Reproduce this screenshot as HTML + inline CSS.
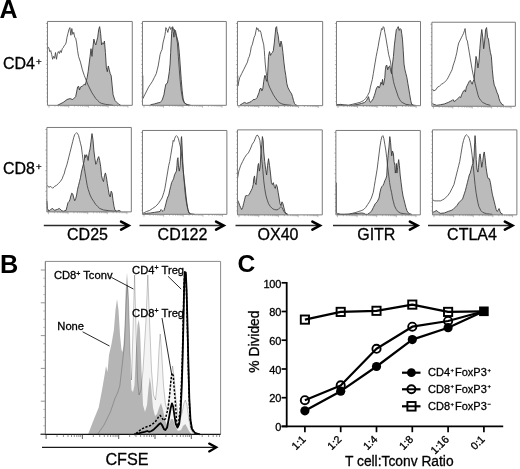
<!DOCTYPE html>
<html><head><meta charset="utf-8"><style>
html,body{margin:0;padding:0;background:#fff;}
body{width:520px;height:469px;overflow:hidden;}
svg{display:block;filter:grayscale(1);font-family:"Liberation Sans",sans-serif;}
text{stroke:#000;stroke-width:0.3px;}
</style></head><body>
<svg width="520" height="469" viewBox="0 0 520 469">
<rect width="520" height="469" fill="#fff"/>
<text x="-0.6" y="17.8" font-size="25" text-anchor="start" font-weight="bold" style="stroke-width:0">A</text>
<text x="0.0" y="272.8" font-size="25.3" text-anchor="start" font-weight="bold" style="stroke-width:0">B</text>
<text x="237.6" y="272.0" font-size="24.6" text-anchor="start" font-weight="bold" style="stroke-width:0">C</text>
<text x="3" y="68.8" font-size="16">CD4<tspan font-size="9.6" dx="1.1" dy="-4">+</tspan></text>
<text x="3" y="174" font-size="16">CD8<tspan font-size="9.6" dx="1.1" dy="-4">+</tspan></text>
<g transform="translate(44,18) scale(0.191898)">
<path d="M70,455 L70,455 L100,440 L120,425 L135,420 L150,425 L165,410 L175,360 L180,355 L185,375 L190,360 L200,355 L210,345 L215,350 L220,330 L225,310 L230,280 L235,240 L240,200 L245,160 L250,200 L255,150 L260,110 L265,130 L270,140 L275,120 L280,100 L285,60 L290,45 L295,80 L300,140 L305,130 L310,135 L315,120 L320,180 L325,260 L330,280 L335,250 L340,270 L345,290 L350,300 L355,350 L360,400 L370,430 L380,440 L390,450 L400,455 L400,455 Z" fill="#bbbbbb" stroke="none"/>
<polyline points="70.0,455.0 100.0,440.0 120.0,425.0 135.0,420.0 150.0,425.0 165.0,410.0 175.0,360.0 180.0,355.0 185.0,375.0 190.0,360.0 200.0,355.0 210.0,345.0 215.0,350.0 220.0,330.0 225.0,310.0 230.0,280.0 235.0,240.0 240.0,200.0 245.0,160.0 250.0,200.0 255.0,150.0 260.0,110.0 265.0,130.0 270.0,140.0 275.0,120.0 280.0,100.0 285.0,60.0 290.0,45.0 295.0,80.0 300.0,140.0 305.0,130.0 310.0,135.0 315.0,120.0 320.0,180.0 325.0,260.0 330.0,280.0 335.0,250.0 340.0,270.0 345.0,290.0 350.0,300.0 355.0,350.0 360.0,400.0 370.0,430.0 380.0,440.0 390.0,450.0 400.0,455.0" fill="none" stroke="#3a3a3a" stroke-width="0.9" vector-effect="non-scaling-stroke" stroke-linejoin="round"/>
<polyline points="20.0,150.0 25.0,155.0 30.0,175.0 35.0,170.0 40.0,190.0 45.0,215.0 50.0,200.0 55.0,210.0 60.0,180.0 65.0,215.0 70.0,185.0 75.0,175.0 80.0,185.0 85.0,170.0 90.0,180.0 95.0,160.0 100.0,155.0 105.0,145.0 110.0,140.0 115.0,130.0 120.0,100.0 125.0,80.0 130.0,60.0 135.0,50.0 140.0,90.0 145.0,55.0 150.0,85.0 155.0,75.0 160.0,100.0 165.0,105.0 170.0,130.0 175.0,170.0 180.0,200.0 190.0,230.0 200.0,270.0 210.0,300.0 220.0,325.0 230.0,350.0 240.0,370.0 250.0,390.0 260.0,405.0 270.0,420.0 280.0,430.0 290.0,440.0 300.0,445.0 320.0,450.0 360.0,455.0" fill="none" stroke="#3a3a3a" stroke-width="0.8" vector-effect="non-scaling-stroke" stroke-linejoin="round"/>
<rect x="18" y="18" width="442" height="437" fill="none" stroke="#7a7a7a" stroke-width="1" vector-effect="non-scaling-stroke"/>
<path d="M13 433.7H18M13 412.4H18M13 391.0H18M13 369.7H18M10 348.4H18M13 327.1H18M13 305.8H18M13 284.5H18M13 263.1H18M10 241.8H18M13 220.5H18M13 199.2H18M13 177.9H18M13 156.6H18M10 135.2H18M13 113.9H18M13 92.6H18M13 71.3H18M13 50.0H18M10 28.7H18" stroke="#7a7a7a" stroke-width="0.6" vector-effect="non-scaling-stroke"/>
<path d="M26.0 455v12M56.9 455v7M75.0 455v7M87.9 455v7M97.8 455v7M106.0 455v7M112.9 455v7M118.8 455v7M124.1 455v7M128.8 455v12M159.7 455v7M177.8 455v7M190.7 455v7M200.6 455v7M208.8 455v7M215.7 455v7M221.6 455v7M226.9 455v7M231.6 455v12M262.5 455v7M280.6 455v7M293.5 455v7M303.4 455v7M311.6 455v7M318.4 455v7M324.4 455v7M329.7 455v7M334.4 455v12M365.3 455v7M383.4 455v7M396.3 455v7M406.2 455v7M414.4 455v7M421.2 455v7M427.2 455v7M432.5 455v7M437.2 455v12" stroke="#8a8a8a" stroke-width="0.6" vector-effect="non-scaling-stroke"/>
</g>
<g transform="translate(139,18) scale(0.191898)">
<path d="M60,455 L60,452 L80,448 L100,442 L110,440 L120,430 L130,400 L135,370 L140,345 L148,340 L152,320 L158,280 L162,240 L165,180 L168,120 L170,80 L172,60 L175,50 L178,70 L182,100 L185,60 L190,65 L195,90 L200,110 L205,130 L210,180 L215,250 L220,320 L225,380 L230,420 L235,440 L245,450 L260,455 L260,455 Z" fill="#bbbbbb" stroke="none"/>
<polyline points="60.0,452.0 80.0,448.0 100.0,442.0 110.0,440.0 120.0,430.0 130.0,400.0 135.0,370.0 140.0,345.0 148.0,340.0 152.0,320.0 158.0,280.0 162.0,240.0 165.0,180.0 168.0,120.0 170.0,80.0 172.0,60.0 175.0,50.0 178.0,70.0 182.0,100.0 185.0,60.0 190.0,65.0 195.0,90.0 200.0,110.0 205.0,130.0 210.0,180.0 215.0,250.0 220.0,320.0 225.0,380.0 230.0,420.0 235.0,440.0 245.0,450.0 260.0,455.0" fill="none" stroke="#3a3a3a" stroke-width="0.9" vector-effect="non-scaling-stroke" stroke-linejoin="round"/>
<polyline points="20.0,300.0 20.0,420.0 30.0,400.0 40.0,380.0 50.0,360.0 60.0,345.0 70.0,330.0 80.0,310.0 90.0,290.0 95.0,270.0 100.0,250.0 105.0,220.0 110.0,190.0 115.0,175.0 120.0,165.0 125.0,130.0 130.0,110.0 135.0,90.0 138.0,70.0 140.0,50.0 145.0,60.0 150.0,75.0 155.0,55.0 160.0,45.0 165.0,60.0 170.0,50.0 175.0,45.0 180.0,60.0 185.0,70.0 190.0,80.0 195.0,100.0 200.0,130.0 205.0,200.0 210.0,270.0 215.0,330.0 220.0,380.0 225.0,410.0 230.0,430.0 240.0,445.0 250.0,450.0 270.0,455.0" fill="none" stroke="#3a3a3a" stroke-width="0.8" vector-effect="non-scaling-stroke" stroke-linejoin="round"/>
<rect x="18" y="18" width="437" height="437" fill="none" stroke="#7a7a7a" stroke-width="1" vector-effect="non-scaling-stroke"/>
<path d="M13 433.7H18M13 412.4H18M13 391.0H18M13 369.7H18M10 348.4H18M13 327.1H18M13 305.8H18M13 284.5H18M13 263.1H18M10 241.8H18M13 220.5H18M13 199.2H18M13 177.9H18M13 156.6H18M10 135.2H18M13 113.9H18M13 92.6H18M13 71.3H18M13 50.0H18M10 28.7H18" stroke="#7a7a7a" stroke-width="0.6" vector-effect="non-scaling-stroke"/>
<path d="M26.0 455v12M56.6 455v7M74.5 455v7M87.2 455v7M97.0 455v7M105.1 455v7M111.9 455v7M117.8 455v7M123.0 455v7M127.6 455v12M158.2 455v7M176.1 455v7M188.8 455v7M198.7 455v7M206.7 455v7M213.5 455v7M219.4 455v7M224.6 455v7M229.3 455v12M259.8 455v7M277.7 455v7M290.4 455v7M300.3 455v7M308.3 455v7M315.1 455v7M321.0 455v7M326.2 455v7M330.9 455v12M361.5 455v7M379.4 455v7M392.1 455v7M401.9 455v7M410.0 455v7M416.8 455v7M422.7 455v7M427.9 455v7M432.5 455v12" stroke="#8a8a8a" stroke-width="0.6" vector-effect="non-scaling-stroke"/>
</g>
<g transform="translate(234,18) scale(0.191898)">
<path d="M30,457 L30,455 L45,445 L55,440 L65,445 L80,440 L90,435 L100,425 L110,425 L120,415 L130,390 L135,370 L140,365 L145,380 L150,370 L155,330 L160,300 L163,300 L167,320 L170,330 L175,300 L180,200 L185,175 L190,195 L195,185 L200,180 L205,170 L210,130 L213,100 L218,50 L222,45 L225,70 L230,90 L235,130 L240,150 L245,120 L250,140 L255,180 L260,230 L265,270 L270,300 L275,340 L280,360 L290,380 L300,395 L305,410 L310,430 L315,445 L320,452 L330,456 L330,457 Z" fill="#bbbbbb" stroke="none"/>
<polyline points="30.0,455.0 45.0,445.0 55.0,440.0 65.0,445.0 80.0,440.0 90.0,435.0 100.0,425.0 110.0,425.0 120.0,415.0 130.0,390.0 135.0,370.0 140.0,365.0 145.0,380.0 150.0,370.0 155.0,330.0 160.0,300.0 163.0,300.0 167.0,320.0 170.0,330.0 175.0,300.0 180.0,200.0 185.0,175.0 190.0,195.0 195.0,185.0 200.0,180.0 205.0,170.0 210.0,130.0 213.0,100.0 218.0,50.0 222.0,45.0 225.0,70.0 230.0,90.0 235.0,130.0 240.0,150.0 245.0,120.0 250.0,140.0 255.0,180.0 260.0,230.0 265.0,270.0 270.0,300.0 275.0,340.0 280.0,360.0 290.0,380.0 300.0,395.0 305.0,410.0 310.0,430.0 315.0,445.0 320.0,452.0 330.0,456.0" fill="none" stroke="#3a3a3a" stroke-width="0.9" vector-effect="non-scaling-stroke" stroke-linejoin="round"/>
<polyline points="20.0,300.0 20.0,355.0 25.0,330.0 30.0,310.0 40.0,290.0 50.0,270.0 60.0,250.0 70.0,230.0 75.0,210.0 80.0,200.0 85.0,180.0 90.0,150.0 95.0,140.0 100.0,120.0 105.0,100.0 110.0,90.0 115.0,65.0 118.0,50.0 122.0,60.0 125.0,55.0 130.0,70.0 135.0,65.0 140.0,75.0 145.0,100.0 150.0,120.0 155.0,140.0 158.0,170.0 160.0,200.0 163.0,240.0 167.0,280.0 172.0,310.0 178.0,340.0 185.0,360.0 195.0,380.0 205.0,400.0 215.0,415.0 225.0,430.0 235.0,440.0 250.0,448.0 270.0,452.0 300.0,455.0" fill="none" stroke="#3a3a3a" stroke-width="0.8" vector-effect="non-scaling-stroke" stroke-linejoin="round"/>
<rect x="18" y="18" width="444" height="439" fill="none" stroke="#7a7a7a" stroke-width="1" vector-effect="non-scaling-stroke"/>
<path d="M13 435.6H18M13 414.2H18M13 392.8H18M13 371.3H18M10 349.9H18M13 328.5H18M13 307.1H18M13 285.7H18M13 264.3H18M10 242.9H18M13 221.4H18M13 200.0H18M13 178.6H18M13 157.2H18M10 135.8H18M13 114.4H18M13 93.0H18M13 71.5H18M13 50.1H18M10 28.7H18" stroke="#7a7a7a" stroke-width="0.6" vector-effect="non-scaling-stroke"/>
<path d="M26.0 457v12M57.1 457v7M75.3 457v7M88.2 457v7M98.2 457v7M106.3 457v7M113.3 457v7M119.2 457v7M124.5 457v7M129.3 457v12M160.3 457v7M178.5 457v7M191.4 457v7M201.4 457v7M209.6 457v7M216.5 457v7M222.5 457v7M227.8 457v7M232.5 457v12M263.6 457v7M281.8 457v7M294.7 457v7M304.7 457v7M312.9 457v7M319.8 457v7M325.8 457v7M331.0 457v7M335.8 457v12M366.9 457v7M385.0 457v7M397.9 457v7M407.9 457v7M416.1 457v7M423.0 457v7M429.0 457v7M434.3 457v7M439.0 457v12" stroke="#8a8a8a" stroke-width="0.6" vector-effect="non-scaling-stroke"/>
</g>
<g transform="translate(333,18) scale(0.191898)">
<path d="M20,457 L20,455 L40,450 L60,455 L100,455 L130,450 L150,445 L165,440 L175,430 L180,420 L185,410 L190,430 L195,440 L200,435 L210,420 L215,405 L220,390 L225,370 L230,360 L235,355 L240,365 L245,355 L250,335 L255,345 L258,320 L262,350 L265,340 L270,310 L273,270 L276,250 L280,245 L285,270 L290,255 L295,250 L300,270 L305,290 L310,240 L315,200 L320,140 L325,100 L330,60 L335,55 L340,45 L345,65 L350,55 L355,60 L358,80 L362,110 L366,170 L370,240 L375,270 L380,290 L385,310 L390,340 L395,370 L400,400 L405,430 L410,450 L420,455 L420,457 Z" fill="#bbbbbb" stroke="none"/>
<polyline points="20.0,455.0 40.0,450.0 60.0,455.0 100.0,455.0 130.0,450.0 150.0,445.0 165.0,440.0 175.0,430.0 180.0,420.0 185.0,410.0 190.0,430.0 195.0,440.0 200.0,435.0 210.0,420.0 215.0,405.0 220.0,390.0 225.0,370.0 230.0,360.0 235.0,355.0 240.0,365.0 245.0,355.0 250.0,335.0 255.0,345.0 258.0,320.0 262.0,350.0 265.0,340.0 270.0,310.0 273.0,270.0 276.0,250.0 280.0,245.0 285.0,270.0 290.0,255.0 295.0,250.0 300.0,270.0 305.0,290.0 310.0,240.0 315.0,200.0 320.0,140.0 325.0,100.0 330.0,60.0 335.0,55.0 340.0,45.0 345.0,65.0 350.0,55.0 355.0,60.0 358.0,80.0 362.0,110.0 366.0,170.0 370.0,240.0 375.0,270.0 380.0,290.0 385.0,310.0 390.0,340.0 395.0,370.0 400.0,400.0 405.0,430.0 410.0,450.0 420.0,455.0" fill="none" stroke="#3a3a3a" stroke-width="0.9" vector-effect="non-scaling-stroke" stroke-linejoin="round"/>
<polyline points="20.0,450.0 40.0,455.0 60.0,452.0 80.0,455.0 100.0,450.0 120.0,445.0 140.0,440.0 150.0,435.0 160.0,430.0 170.0,420.0 180.0,405.0 190.0,385.0 195.0,360.0 200.0,340.0 205.0,320.0 210.0,290.0 215.0,260.0 220.0,230.0 225.0,200.0 230.0,175.0 235.0,150.0 240.0,120.0 245.0,95.0 250.0,70.0 253.0,55.0 258.0,60.0 262.0,45.0 266.0,50.0 270.0,75.0 275.0,100.0 280.0,130.0 285.0,160.0 290.0,190.0 295.0,210.0 300.0,230.0 305.0,270.0 310.0,300.0 315.0,330.0 320.0,350.0 330.0,380.0 340.0,410.0 350.0,430.0 360.0,440.0 370.0,445.0 380.0,450.0 400.0,453.0 430.0,455.0" fill="none" stroke="#3a3a3a" stroke-width="0.8" vector-effect="non-scaling-stroke" stroke-linejoin="round"/>
<rect x="18" y="18" width="438" height="439" fill="none" stroke="#7a7a7a" stroke-width="1" vector-effect="non-scaling-stroke"/>
<path d="M13 435.6H18M13 414.2H18M13 392.8H18M13 371.3H18M10 349.9H18M13 328.5H18M13 307.1H18M13 285.7H18M13 264.3H18M10 242.9H18M13 221.4H18M13 200.0H18M13 178.6H18M13 157.2H18M10 135.8H18M13 114.4H18M13 93.0H18M13 71.5H18M13 50.1H18M10 28.7H18" stroke="#7a7a7a" stroke-width="0.6" vector-effect="non-scaling-stroke"/>
<path d="M26.0 457v12M56.7 457v7M74.6 457v7M87.3 457v7M97.2 457v7M105.3 457v7M112.1 457v7M118.0 457v7M123.2 457v7M127.9 457v12M158.5 457v7M176.5 457v7M189.2 457v7M199.1 457v7M207.1 457v7M213.9 457v7M219.8 457v7M225.1 457v7M229.7 457v12M260.4 457v7M278.3 457v7M291.0 457v7M300.9 457v7M309.0 457v7M315.8 457v7M321.7 457v7M326.9 457v7M331.6 457v12M362.2 457v7M380.2 457v7M392.9 457v7M402.8 457v7M410.8 457v7M417.7 457v7M423.6 457v7M428.8 457v7M433.4 457v12" stroke="#8a8a8a" stroke-width="0.6" vector-effect="non-scaling-stroke"/>
</g>
<g transform="translate(429,18) scale(0.191898)">
<path d="M18,460 L18,445 L25,450 L40,455 L60,452 L80,448 L100,440 L110,435 L120,430 L125,425 L130,435 L140,430 L150,420 L160,410 L165,415 L170,400 L175,390 L180,380 L185,375 L190,385 L195,360 L200,350 L205,340 L210,330 L215,325 L220,335 L225,345 L230,330 L235,320 L240,260 L245,200 L250,220 L255,260 L260,230 L265,160 L270,100 L275,60 L280,100 L285,160 L290,120 L295,60 L300,50 L305,100 L310,110 L315,150 L320,180 L325,200 L330,270 L335,320 L340,350 L345,360 L350,375 L355,390 L360,400 L365,420 L370,435 L380,450 L390,455 L390,460 Z" fill="#bbbbbb" stroke="none"/>
<polyline points="18.0,445.0 25.0,450.0 40.0,455.0 60.0,452.0 80.0,448.0 100.0,440.0 110.0,435.0 120.0,430.0 125.0,425.0 130.0,435.0 140.0,430.0 150.0,420.0 160.0,410.0 165.0,415.0 170.0,400.0 175.0,390.0 180.0,380.0 185.0,375.0 190.0,385.0 195.0,360.0 200.0,350.0 205.0,340.0 210.0,330.0 215.0,325.0 220.0,335.0 225.0,345.0 230.0,330.0 235.0,320.0 240.0,260.0 245.0,200.0 250.0,220.0 255.0,260.0 260.0,230.0 265.0,160.0 270.0,100.0 275.0,60.0 280.0,100.0 285.0,160.0 290.0,120.0 295.0,60.0 300.0,50.0 305.0,100.0 310.0,110.0 315.0,150.0 320.0,180.0 325.0,200.0 330.0,270.0 335.0,320.0 340.0,350.0 345.0,360.0 350.0,375.0 355.0,390.0 360.0,400.0 365.0,420.0 370.0,435.0 380.0,450.0 390.0,455.0" fill="none" stroke="#3a3a3a" stroke-width="0.9" vector-effect="non-scaling-stroke" stroke-linejoin="round"/>
<polyline points="18.0,370.0 25.0,380.0 35.0,375.0 45.0,360.0 55.0,355.0 65.0,345.0 75.0,340.0 85.0,330.0 95.0,320.0 100.0,310.0 105.0,300.0 110.0,290.0 115.0,280.0 120.0,270.0 125.0,250.0 130.0,235.0 135.0,220.0 140.0,200.0 145.0,180.0 150.0,150.0 155.0,130.0 160.0,120.0 165.0,110.0 170.0,100.0 175.0,90.0 180.0,80.0 185.0,65.0 188.0,55.0 192.0,90.0 195.0,110.0 200.0,120.0 205.0,150.0 210.0,180.0 215.0,210.0 220.0,240.0 225.0,270.0 230.0,295.0 235.0,315.0 240.0,340.0 245.0,360.0 250.0,380.0 255.0,400.0 260.0,415.0 270.0,430.0 280.0,440.0 300.0,450.0 320.0,455.0" fill="none" stroke="#3a3a3a" stroke-width="0.8" vector-effect="non-scaling-stroke" stroke-linejoin="round"/>
<rect x="15" y="22" width="435" height="438" fill="none" stroke="#7a7a7a" stroke-width="1" vector-effect="non-scaling-stroke"/>
<path d="M10 438.6H15M10 417.3H15M10 395.9H15M10 374.5H15M7 353.2H15M10 331.8H15M10 310.4H15M10 289.1H15M10 267.7H15M7 246.3H15M10 225.0H15M10 203.6H15M10 182.2H15M10 160.9H15M7 139.5H15M10 118.1H15M10 96.8H15M10 75.4H15M10 54.0H15M7 32.7H15" stroke="#7a7a7a" stroke-width="0.6" vector-effect="non-scaling-stroke"/>
<path d="M23.0 460v12M53.5 460v7M71.3 460v7M83.9 460v7M93.7 460v7M101.7 460v7M108.5 460v7M114.4 460v7M119.5 460v7M124.2 460v12M154.6 460v7M172.4 460v7M185.1 460v7M194.9 460v7M202.9 460v7M209.7 460v7M215.5 460v7M220.7 460v7M225.3 460v12M255.8 460v7M273.6 460v7M286.2 460v7M296.0 460v7M304.0 460v7M310.8 460v7M316.7 460v7M321.9 460v7M326.5 460v12M356.9 460v7M374.8 460v7M387.4 460v7M397.2 460v7M405.2 460v7M412.0 460v7M417.8 460v7M423.0 460v7M427.7 460v12" stroke="#8a8a8a" stroke-width="0.6" vector-effect="non-scaling-stroke"/>
</g>
<g transform="translate(44,124) scale(0.191898)">
<path d="M15,458 L15,400 L18,440 L25,455 L35,445 L45,440 L55,450 L70,445 L80,440 L90,450 L100,455 L115,450 L120,430 L125,410 L130,405 L135,395 L140,375 L145,360 L150,365 L155,385 L160,400 L165,390 L170,370 L175,340 L180,320 L185,300 L190,280 L195,250 L200,230 L205,210 L210,190 L213,160 L217,175 L222,160 L227,175 L230,190 L235,150 L240,130 L245,90 L250,50 L255,80 L260,140 L265,180 L270,210 L275,200 L280,180 L285,170 L290,190 L295,220 L300,270 L305,290 L310,300 L315,270 L320,255 L325,275 L330,310 L335,340 L340,370 L345,380 L350,350 L355,360 L360,400 L365,430 L370,450 L380,455 L390,450 L400,455 L400,458 Z" fill="#bbbbbb" stroke="none"/>
<polyline points="15.0,400.0 18.0,440.0 25.0,455.0 35.0,445.0 45.0,440.0 55.0,450.0 70.0,445.0 80.0,440.0 90.0,450.0 100.0,455.0 115.0,450.0 120.0,430.0 125.0,410.0 130.0,405.0 135.0,395.0 140.0,375.0 145.0,360.0 150.0,365.0 155.0,385.0 160.0,400.0 165.0,390.0 170.0,370.0 175.0,340.0 180.0,320.0 185.0,300.0 190.0,280.0 195.0,250.0 200.0,230.0 205.0,210.0 210.0,190.0 213.0,160.0 217.0,175.0 222.0,160.0 227.0,175.0 230.0,190.0 235.0,150.0 240.0,130.0 245.0,90.0 250.0,50.0 255.0,80.0 260.0,140.0 265.0,180.0 270.0,210.0 275.0,200.0 280.0,180.0 285.0,170.0 290.0,190.0 295.0,220.0 300.0,270.0 305.0,290.0 310.0,300.0 315.0,270.0 320.0,255.0 325.0,275.0 330.0,310.0 335.0,340.0 340.0,370.0 345.0,380.0 350.0,350.0 355.0,360.0 360.0,400.0 365.0,430.0 370.0,450.0 380.0,455.0 390.0,450.0 400.0,455.0" fill="none" stroke="#3a3a3a" stroke-width="0.9" vector-effect="non-scaling-stroke" stroke-linejoin="round"/>
<polyline points="18.0,320.0 25.0,330.0 35.0,325.0 45.0,335.0 55.0,325.0 65.0,320.0 75.0,310.0 85.0,300.0 95.0,285.0 100.0,270.0 105.0,260.0 110.0,240.0 115.0,225.0 120.0,210.0 125.0,190.0 130.0,170.0 135.0,150.0 140.0,130.0 145.0,110.0 150.0,90.0 155.0,70.0 160.0,55.0 165.0,50.0 170.0,45.0 175.0,50.0 180.0,60.0 185.0,80.0 190.0,100.0 195.0,120.0 200.0,160.0 205.0,200.0 210.0,230.0 215.0,260.0 220.0,290.0 225.0,320.0 230.0,340.0 235.0,355.0 240.0,370.0 250.0,390.0 260.0,405.0 270.0,420.0 280.0,430.0 290.0,440.0 310.0,448.0 340.0,452.0 380.0,455.0" fill="none" stroke="#3a3a3a" stroke-width="0.8" vector-effect="non-scaling-stroke" stroke-linejoin="round"/>
<rect x="15" y="18" width="440" height="440" fill="none" stroke="#7a7a7a" stroke-width="1" vector-effect="non-scaling-stroke"/>
<path d="M10 436.5H15M10 415.1H15M10 393.6H15M10 372.1H15M7 350.7H15M10 329.2H15M10 307.8H15M10 286.3H15M10 264.8H15M7 243.4H15M10 221.9H15M10 200.4H15M10 179.0H15M10 157.5H15M7 136.0H15M10 114.6H15M10 93.1H15M10 71.7H15M10 50.2H15M7 28.7H15" stroke="#7a7a7a" stroke-width="0.6" vector-effect="non-scaling-stroke"/>
<path d="M23.0 458v12M53.8 458v7M71.8 458v7M84.6 458v7M94.5 458v7M102.6 458v7M109.5 458v7M115.4 458v7M120.6 458v7M125.3 458v12M156.1 458v7M174.1 458v7M186.9 458v7M196.8 458v7M205.0 458v7M211.8 458v7M217.7 458v7M223.0 458v7M227.7 458v12M258.5 458v7M276.5 458v7M289.3 458v7M299.2 458v7M307.3 458v7M314.1 458v7M320.1 458v7M325.3 458v7M330.0 458v12M360.8 458v7M378.8 458v7M391.6 458v7M401.5 458v7M409.6 458v7M416.5 458v7M422.4 458v7M427.6 458v7M432.3 458v12" stroke="#8a8a8a" stroke-width="0.6" vector-effect="non-scaling-stroke"/>
</g>
<g transform="translate(139,127) scale(0.191898)">
<path d="M20,455 L20,455 L40,450 L60,448 L80,445 L100,442 L110,440 L115,430 L120,435 L125,440 L130,435 L135,420 L140,400 L145,380 L150,365 L155,355 L160,330 L165,310 L170,290 L175,280 L180,270 L185,250 L190,240 L195,230 L198,200 L200,170 L203,160 L206,210 L210,230 L215,200 L218,120 L220,60 L222,50 L225,110 L228,180 L230,220 L235,270 L240,310 L245,360 L250,400 L255,430 L260,448 L270,455 L270,455 Z" fill="#bbbbbb" stroke="none"/>
<polyline points="20.0,455.0 40.0,450.0 60.0,448.0 80.0,445.0 100.0,442.0 110.0,440.0 115.0,430.0 120.0,435.0 125.0,440.0 130.0,435.0 135.0,420.0 140.0,400.0 145.0,380.0 150.0,365.0 155.0,355.0 160.0,330.0 165.0,310.0 170.0,290.0 175.0,280.0 180.0,270.0 185.0,250.0 190.0,240.0 195.0,230.0 198.0,200.0 200.0,170.0 203.0,160.0 206.0,210.0 210.0,230.0 215.0,200.0 218.0,120.0 220.0,60.0 222.0,50.0 225.0,110.0 228.0,180.0 230.0,220.0 235.0,270.0 240.0,310.0 245.0,360.0 250.0,400.0 255.0,430.0 260.0,448.0 270.0,455.0" fill="none" stroke="#3a3a3a" stroke-width="0.9" vector-effect="non-scaling-stroke" stroke-linejoin="round"/>
<polyline points="20.0,450.0 30.0,445.0 40.0,440.0 55.0,435.0 70.0,425.0 85.0,415.0 100.0,400.0 110.0,385.0 120.0,370.0 125.0,355.0 130.0,340.0 135.0,320.0 140.0,290.0 145.0,260.0 150.0,230.0 155.0,200.0 160.0,180.0 165.0,150.0 170.0,120.0 175.0,90.0 178.0,70.0 182.0,75.0 186.0,60.0 190.0,50.0 195.0,45.0 200.0,50.0 205.0,60.0 210.0,80.0 215.0,100.0 220.0,130.0 225.0,170.0 230.0,220.0 235.0,280.0 240.0,340.0 245.0,380.0 250.0,410.0 255.0,430.0 260.0,445.0 270.0,452.0 290.0,455.0" fill="none" stroke="#3a3a3a" stroke-width="0.8" vector-effect="non-scaling-stroke" stroke-linejoin="round"/>
<rect x="18" y="18" width="440" height="437" fill="none" stroke="#7a7a7a" stroke-width="1" vector-effect="non-scaling-stroke"/>
<path d="M13 433.7H18M13 412.4H18M13 391.0H18M13 369.7H18M10 348.4H18M13 327.1H18M13 305.8H18M13 284.5H18M13 263.1H18M10 241.8H18M13 220.5H18M13 199.2H18M13 177.9H18M13 156.6H18M10 135.2H18M13 113.9H18M13 92.6H18M13 71.3H18M13 50.0H18M10 28.7H18" stroke="#7a7a7a" stroke-width="0.6" vector-effect="non-scaling-stroke"/>
<path d="M26.0 455v12M56.8 455v7M74.8 455v7M87.6 455v7M97.5 455v7M105.6 455v7M112.5 455v7M118.4 455v7M123.6 455v7M128.3 455v12M159.1 455v7M177.1 455v7M189.9 455v7M199.8 455v7M208.0 455v7M214.8 455v7M220.7 455v7M226.0 455v7M230.7 455v12M261.5 455v7M279.5 455v7M292.3 455v7M302.2 455v7M310.3 455v7M317.1 455v7M323.1 455v7M328.3 455v7M333.0 455v12M363.8 455v7M381.8 455v7M394.6 455v7M404.5 455v7M412.6 455v7M419.5 455v7M425.4 455v7M430.6 455v7M435.3 455v12" stroke="#8a8a8a" stroke-width="0.6" vector-effect="non-scaling-stroke"/>
</g>
<g transform="translate(234,127) scale(0.191898)">
<path d="M18,458 L18,380 L25,395 L30,410 L35,420 L40,430 L45,420 L50,400 L55,380 L60,360 L65,355 L70,360 L75,355 L80,350 L85,340 L90,330 L95,320 L100,300 L103,270 L107,255 L110,290 L115,300 L120,250 L125,200 L128,190 L132,230 L136,210 L140,140 L145,90 L148,50 L152,70 L155,130 L160,180 L165,220 L170,250 L175,200 L180,165 L185,200 L190,240 L195,290 L200,300 L205,290 L210,310 L215,320 L220,300 L225,310 L230,340 L235,370 L240,400 L245,410 L250,390 L255,400 L260,420 L265,440 L270,450 L280,455 L280,458 Z" fill="#bbbbbb" stroke="none"/>
<polyline points="18.0,380.0 25.0,395.0 30.0,410.0 35.0,420.0 40.0,430.0 45.0,420.0 50.0,400.0 55.0,380.0 60.0,360.0 65.0,355.0 70.0,360.0 75.0,355.0 80.0,350.0 85.0,340.0 90.0,330.0 95.0,320.0 100.0,300.0 103.0,270.0 107.0,255.0 110.0,290.0 115.0,300.0 120.0,250.0 125.0,200.0 128.0,190.0 132.0,230.0 136.0,210.0 140.0,140.0 145.0,90.0 148.0,50.0 152.0,70.0 155.0,130.0 160.0,180.0 165.0,220.0 170.0,250.0 175.0,200.0 180.0,165.0 185.0,200.0 190.0,240.0 195.0,290.0 200.0,300.0 205.0,290.0 210.0,310.0 215.0,320.0 220.0,300.0 225.0,310.0 230.0,340.0 235.0,370.0 240.0,400.0 245.0,410.0 250.0,390.0 255.0,400.0 260.0,420.0 265.0,440.0 270.0,450.0 280.0,455.0" fill="none" stroke="#3a3a3a" stroke-width="0.9" vector-effect="non-scaling-stroke" stroke-linejoin="round"/>
<polyline points="18.0,270.0 25.0,230.0 35.0,200.0 45.0,180.0 55.0,160.0 65.0,145.0 75.0,135.0 85.0,115.0 95.0,90.0 105.0,75.0 115.0,50.0 120.0,42.0 125.0,45.0 130.0,55.0 135.0,70.0 140.0,120.0 145.0,170.0 150.0,220.0 155.0,280.0 160.0,320.0 165.0,350.0 170.0,370.0 175.0,385.0 180.0,400.0 190.0,415.0 200.0,425.0 210.0,430.0 220.0,432.0 230.0,430.0 240.0,420.0 245.0,415.0 250.0,420.0 255.0,430.0 260.0,440.0 270.0,452.0 280.0,455.0" fill="none" stroke="#3a3a3a" stroke-width="0.8" vector-effect="non-scaling-stroke" stroke-linejoin="round"/>
<rect x="18" y="15" width="442" height="443" fill="none" stroke="#7a7a7a" stroke-width="1" vector-effect="non-scaling-stroke"/>
<path d="M13 436.4H18M13 414.8H18M13 393.2H18M13 371.6H18M10 350.0H18M13 328.3H18M13 306.7H18M13 285.1H18M13 263.5H18M10 241.9H18M13 220.3H18M13 198.7H18M13 177.1H18M13 155.5H18M10 133.9H18M13 112.2H18M13 90.6H18M13 69.0H18M13 47.4H18M10 25.8H18" stroke="#7a7a7a" stroke-width="0.6" vector-effect="non-scaling-stroke"/>
<path d="M26.0 458v12M56.9 458v7M75.0 458v7M87.9 458v7M97.8 458v7M106.0 458v7M112.9 458v7M118.8 458v7M124.1 458v7M128.8 458v12M159.7 458v7M177.8 458v7M190.7 458v7M200.6 458v7M208.8 458v7M215.7 458v7M221.6 458v7M226.9 458v7M231.6 458v12M262.5 458v7M280.6 458v7M293.5 458v7M303.4 458v7M311.6 458v7M318.4 458v7M324.4 458v7M329.7 458v7M334.4 458v12M365.3 458v7M383.4 458v7M396.3 458v7M406.2 458v7M414.4 458v7M421.2 458v7M427.2 458v7M432.5 458v7M437.2 458v12" stroke="#8a8a8a" stroke-width="0.6" vector-effect="non-scaling-stroke"/>
</g>
<g transform="translate(333,127) scale(0.191898)">
<path d="M20,458 L20,455 L60,455 L100,453 L130,450 L150,448 L160,450 L170,455 L180,455 L190,448 L200,440 L210,420 L220,400 L230,390 L240,370 L245,340 L250,320 L255,310 L260,305 L265,295 L270,280 L275,270 L280,255 L283,200 L287,150 L292,100 L296,50 L300,80 L303,120 L306,150 L310,125 L315,140 L318,180 L322,200 L325,240 L328,220 L330,190 L333,240 L337,210 L342,170 L346,200 L350,250 L355,290 L360,330 L365,360 L370,380 L375,400 L380,420 L385,435 L390,445 L400,452 L410,455 L410,458 Z" fill="#bbbbbb" stroke="none"/>
<polyline points="20.0,455.0 60.0,455.0 100.0,453.0 130.0,450.0 150.0,448.0 160.0,450.0 170.0,455.0 180.0,455.0 190.0,448.0 200.0,440.0 210.0,420.0 220.0,400.0 230.0,390.0 240.0,370.0 245.0,340.0 250.0,320.0 255.0,310.0 260.0,305.0 265.0,295.0 270.0,280.0 275.0,270.0 280.0,255.0 283.0,200.0 287.0,150.0 292.0,100.0 296.0,50.0 300.0,80.0 303.0,120.0 306.0,150.0 310.0,125.0 315.0,140.0 318.0,180.0 322.0,200.0 325.0,240.0 328.0,220.0 330.0,190.0 333.0,240.0 337.0,210.0 342.0,170.0 346.0,200.0 350.0,250.0 355.0,290.0 360.0,330.0 365.0,360.0 370.0,380.0 375.0,400.0 380.0,420.0 385.0,435.0 390.0,445.0 400.0,452.0 410.0,455.0" fill="none" stroke="#3a3a3a" stroke-width="0.9" vector-effect="non-scaling-stroke" stroke-linejoin="round"/>
<polyline points="18.0,290.0 18.0,450.0 22.0,450.0 40.0,455.0 80.0,455.0 100.0,450.0 120.0,445.0 135.0,440.0 150.0,435.0 160.0,430.0 170.0,420.0 180.0,405.0 190.0,390.0 195.0,380.0 200.0,370.0 210.0,340.0 215.0,310.0 220.0,280.0 225.0,250.0 230.0,220.0 235.0,180.0 240.0,140.0 245.0,100.0 250.0,70.0 255.0,50.0 260.0,45.0 265.0,60.0 270.0,90.0 275.0,120.0 280.0,160.0 285.0,210.0 290.0,250.0 295.0,290.0 300.0,320.0 305.0,340.0 310.0,370.0 315.0,390.0 320.0,410.0 330.0,430.0 340.0,442.0 350.0,448.0 370.0,452.0 400.0,455.0" fill="none" stroke="#3a3a3a" stroke-width="0.8" vector-effect="non-scaling-stroke" stroke-linejoin="round"/>
<rect x="15" y="18" width="440" height="440" fill="none" stroke="#7a7a7a" stroke-width="1" vector-effect="non-scaling-stroke"/>
<path d="M10 436.5H15M10 415.1H15M10 393.6H15M10 372.1H15M7 350.7H15M10 329.2H15M10 307.8H15M10 286.3H15M10 264.8H15M7 243.4H15M10 221.9H15M10 200.4H15M10 179.0H15M10 157.5H15M7 136.0H15M10 114.6H15M10 93.1H15M10 71.7H15M10 50.2H15M7 28.7H15" stroke="#7a7a7a" stroke-width="0.6" vector-effect="non-scaling-stroke"/>
<path d="M23.0 458v12M53.8 458v7M71.8 458v7M84.6 458v7M94.5 458v7M102.6 458v7M109.5 458v7M115.4 458v7M120.6 458v7M125.3 458v12M156.1 458v7M174.1 458v7M186.9 458v7M196.8 458v7M205.0 458v7M211.8 458v7M217.7 458v7M223.0 458v7M227.7 458v12M258.5 458v7M276.5 458v7M289.3 458v7M299.2 458v7M307.3 458v7M314.1 458v7M320.1 458v7M325.3 458v7M330.0 458v12M360.8 458v7M378.8 458v7M391.6 458v7M401.5 458v7M409.6 458v7M416.5 458v7M422.4 458v7M427.6 458v7M432.3 458v12" stroke="#8a8a8a" stroke-width="0.6" vector-effect="non-scaling-stroke"/>
</g>
<g transform="translate(429,127) scale(0.191898)">
<path d="M20,458 L20,445 L30,440 L40,435 L50,445 L60,450 L80,448 L100,440 L115,435 L125,430 L135,420 L145,410 L155,395 L165,385 L175,375 L180,360 L185,345 L190,330 L195,310 L200,290 L205,270 L210,250 L215,240 L220,220 L225,200 L230,190 L235,150 L238,80 L240,45 L243,90 L246,170 L250,220 L255,235 L258,210 L262,160 L266,140 L270,170 L275,210 L280,180 L285,140 L288,130 L292,160 L296,200 L300,230 L305,260 L310,270 L315,270 L320,290 L325,320 L330,350 L335,370 L340,390 L345,410 L350,430 L355,440 L360,435 L365,425 L370,440 L375,450 L385,455 L385,458 Z" fill="#bbbbbb" stroke="none"/>
<polyline points="20.0,445.0 30.0,440.0 40.0,435.0 50.0,445.0 60.0,450.0 80.0,448.0 100.0,440.0 115.0,435.0 125.0,430.0 135.0,420.0 145.0,410.0 155.0,395.0 165.0,385.0 175.0,375.0 180.0,360.0 185.0,345.0 190.0,330.0 195.0,310.0 200.0,290.0 205.0,270.0 210.0,250.0 215.0,240.0 220.0,220.0 225.0,200.0 230.0,190.0 235.0,150.0 238.0,80.0 240.0,45.0 243.0,90.0 246.0,170.0 250.0,220.0 255.0,235.0 258.0,210.0 262.0,160.0 266.0,140.0 270.0,170.0 275.0,210.0 280.0,180.0 285.0,140.0 288.0,130.0 292.0,160.0 296.0,200.0 300.0,230.0 305.0,260.0 310.0,270.0 315.0,270.0 320.0,290.0 325.0,320.0 330.0,350.0 335.0,370.0 340.0,390.0 345.0,410.0 350.0,430.0 355.0,440.0 360.0,435.0 365.0,425.0 370.0,440.0 375.0,450.0 385.0,455.0" fill="none" stroke="#3a3a3a" stroke-width="0.9" vector-effect="non-scaling-stroke" stroke-linejoin="round"/>
<polyline points="20.0,380.0 30.0,385.0 40.0,385.0 50.0,385.0 60.0,385.0 70.0,380.0 80.0,375.0 90.0,365.0 100.0,355.0 110.0,340.0 120.0,320.0 130.0,300.0 135.0,280.0 140.0,260.0 145.0,240.0 150.0,220.0 155.0,200.0 160.0,180.0 165.0,150.0 170.0,120.0 175.0,90.0 180.0,70.0 185.0,55.0 190.0,45.0 195.0,40.0 200.0,45.0 205.0,50.0 210.0,60.0 215.0,80.0 220.0,110.0 225.0,150.0 230.0,200.0 235.0,250.0 240.0,300.0 245.0,340.0 250.0,370.0 255.0,395.0 260.0,415.0 270.0,435.0 280.0,445.0 300.0,452.0 330.0,455.0" fill="none" stroke="#3a3a3a" stroke-width="0.8" vector-effect="non-scaling-stroke" stroke-linejoin="round"/>
<rect x="18" y="15" width="440" height="443" fill="none" stroke="#7a7a7a" stroke-width="1" vector-effect="non-scaling-stroke"/>
<path d="M13 436.4H18M13 414.8H18M13 393.2H18M13 371.6H18M10 350.0H18M13 328.3H18M13 306.7H18M13 285.1H18M13 263.5H18M10 241.9H18M13 220.3H18M13 198.7H18M13 177.1H18M13 155.5H18M10 133.9H18M13 112.2H18M13 90.6H18M13 69.0H18M13 47.4H18M10 25.8H18" stroke="#7a7a7a" stroke-width="0.6" vector-effect="non-scaling-stroke"/>
<path d="M26.0 458v12M56.8 458v7M74.8 458v7M87.6 458v7M97.5 458v7M105.6 458v7M112.5 458v7M118.4 458v7M123.6 458v7M128.3 458v12M159.1 458v7M177.1 458v7M189.9 458v7M199.8 458v7M208.0 458v7M214.8 458v7M220.7 458v7M226.0 458v7M230.7 458v12M261.5 458v7M279.5 458v7M292.3 458v7M302.2 458v7M310.3 458v7M317.1 458v7M323.1 458v7M328.3 458v7M333.0 458v12M363.8 458v7M381.8 458v7M394.6 458v7M404.5 458v7M412.6 458v7M419.5 458v7M425.4 458v7M430.6 458v7M435.3 458v12" stroke="#8a8a8a" stroke-width="0.6" vector-effect="non-scaling-stroke"/>
</g>
<line x1="43.8" y1="225.6" x2="128.2" y2="225.6" stroke="#2a2a2a" stroke-width="1.5"/>
<polyline points="121.1,221.6 128.6,225.6 121.1,229.6" fill="none" stroke="#000" stroke-width="2.6" stroke-linecap="round" stroke-linejoin="miter"/>
<line x1="139.5" y1="225.6" x2="223.2" y2="225.6" stroke="#2a2a2a" stroke-width="1.5"/>
<polyline points="216.1,221.6 223.6,225.6 216.1,229.6" fill="none" stroke="#000" stroke-width="2.6" stroke-linecap="round" stroke-linejoin="miter"/>
<line x1="235.5" y1="225.6" x2="319.5" y2="225.6" stroke="#2a2a2a" stroke-width="1.5"/>
<polyline points="312.4,221.6 319.9,225.6 312.4,229.6" fill="none" stroke="#000" stroke-width="2.6" stroke-linecap="round" stroke-linejoin="miter"/>
<line x1="333" y1="225.6" x2="417" y2="225.6" stroke="#2a2a2a" stroke-width="1.5"/>
<polyline points="409.9,221.6 417.4,225.6 409.9,229.6" fill="none" stroke="#000" stroke-width="2.6" stroke-linecap="round" stroke-linejoin="miter"/>
<line x1="428" y1="225.6" x2="512" y2="225.6" stroke="#2a2a2a" stroke-width="1.5"/>
<polyline points="504.9,221.6 512.4,225.6 504.9,229.6" fill="none" stroke="#000" stroke-width="2.6" stroke-linecap="round" stroke-linejoin="miter"/>
<text x="87.5" y="240" font-size="16" text-anchor="middle" font-weight="normal" >CD25</text>
<text x="182.5" y="240" font-size="16" text-anchor="middle" font-weight="normal" >CD122</text>
<text x="278" y="240" font-size="16" text-anchor="middle" font-weight="normal" >OX40</text>
<text x="376.3" y="240" font-size="16" text-anchor="middle" font-weight="normal" >GITR</text>
<text x="472" y="240" font-size="16" text-anchor="middle" font-weight="normal" >CTLA4</text>
<polygon points="97.5,434.4 104,425 110.4,412 115.1,398 117.5,393 119.8,386 122.2,365 124.5,344 126.2,300 127.3,285 128.5,300 130,350 131.5,380 133,330 134.6,275 136,330 137.5,380 139,395 141,390 143,370 146,320 147.8,275 149.5,320 151.5,370 153.5,395 155.5,400 157.5,380 159,350 160.2,334 161.5,350 163.5,385 165.5,405 167.5,410 169.5,395 171.2,375 172.6,366 174,376 176,400 178,415 180,420 182,413 184,403 185.4,400 187,405 189,420 191,430 194,434.4" fill="#f4f4f4" stroke="none"/>
<polygon points="88,434.4 94,419 98.7,407.5 102.2,389 104.6,375 106,366 107.5,372 109,355 111.5,344 113.9,330 115.5,310 117,299 118.5,310 120,335 121.5,350 122.5,352 123.5,345 124.7,325 125.7,290 127,272.5 128.3,290 129.3,325 130.4,370 131.5,390 133,392 134.5,385 136,350 137.5,325 138.8,320 140,330 141.5,370 143,405 145,412 147,405 148.5,388 149.8,377 151,385 153,408 155,416 157,414 159,408 161,403 163,410 165,420 167,425 169,424 171,419 173,419 175,426 178,431 181,430 183,426 185.3,424 187,427 189,431 192,434.4" fill="#b5b5b5" stroke="none"/>
<polyline points="97.5,434.4 104,425 110.4,412 115.1,398 117.5,393 119.8,386 122.2,365 124.5,344 126.2,300 127.3,285 128.5,300 130,350 131.5,380 133,330 134.6,275 136,330 137.5,380 139,395 141,390 143,370 146,320 147.8,275 149.5,320 151.5,370 153.5,395 155.5,400 157.5,380 159,350 160.2,334 161.5,350 163.5,385 165.5,405 167.5,410 169.5,395 171.2,375 172.6,366 174,376 176,400 178,415 180,420 182,413 184,403 185.4,400 187,405 189,420 191,430 194,434.4" fill="none" stroke="#000" stroke-opacity="0.24" stroke-width="0.9" stroke-linejoin="round"/>
<polyline points="136,433.5 140.3,430 144.6,427.5 149.8,425.8 155,422.3 158.5,417 160.2,415.4 162,418 163.7,420.6 165.4,418.8 168,408.5 169.7,394.6 170.9,380.8 172,373 173.2,375.6 174,386 175.4,403.3 176.6,420.6 177.5,425.8 178.4,424 180,412 181.3,386 182.3,360 183.2,320 184,285 184.6,274 185.6,274 186.4,290 187.2,320 188,355 189,395 190,418 191.5,428 194,432.5 198,434" fill="none" stroke="#000" stroke-width="1.5" stroke-dasharray="2.2,1.6" stroke-linejoin="round"/>
<polyline points="134,434.4 136.8,434 141.2,432.7 144.6,431.8 147.2,431 149,431.8 151.5,431 154.1,429.2 156.7,426.6 159.3,424 160.5,423.2 162,425 164,429.2 165.4,430.1 167.1,427.5 168.8,418.8 170.6,408.5 172,403.3 173.2,406.7 174.4,415.4 175.8,424 177.5,427.5 179.2,424 180.6,412 181.8,386 182.7,355 183.5,320 184.2,285 184.8,272 185.8,272.5 186.6,290 187.4,320 188.3,360 189.3,398 190.5,420 192,429 195,433 200,434.4" fill="none" stroke="#000" stroke-width="1.8" stroke-linejoin="round"/>
<polyline points="45.3,261.4 220.6,261.4 220.6,434.4" fill="none" stroke="#8a8a8a" stroke-width="1"/>
<line x1="45.3" y1="261.4" x2="45.3" y2="434.4" stroke="#6a6a6a" stroke-width="1"/>
<line x1="40.6" y1="434.4" x2="220.6" y2="434.4" stroke="#111" stroke-width="1.3"/>
<line x1="40.8" y1="270.0" x2="45.3" y2="270.0" stroke="#8a8a8a" stroke-width="0.9"/>
<line x1="43.3" y1="278.2" x2="45.3" y2="278.2" stroke="#9a9a9a" stroke-width="0.7"/>
<line x1="43.3" y1="286.4" x2="45.3" y2="286.4" stroke="#9a9a9a" stroke-width="0.7"/>
<line x1="43.3" y1="294.6" x2="45.3" y2="294.6" stroke="#9a9a9a" stroke-width="0.7"/>
<line x1="40.8" y1="302.8" x2="45.3" y2="302.8" stroke="#8a8a8a" stroke-width="0.9"/>
<line x1="43.3" y1="311.0" x2="45.3" y2="311.0" stroke="#9a9a9a" stroke-width="0.7"/>
<line x1="43.3" y1="319.2" x2="45.3" y2="319.2" stroke="#9a9a9a" stroke-width="0.7"/>
<line x1="43.3" y1="327.4" x2="45.3" y2="327.4" stroke="#9a9a9a" stroke-width="0.7"/>
<line x1="40.8" y1="335.6" x2="45.3" y2="335.6" stroke="#8a8a8a" stroke-width="0.9"/>
<line x1="43.3" y1="343.8" x2="45.3" y2="343.8" stroke="#9a9a9a" stroke-width="0.7"/>
<line x1="43.3" y1="352.0" x2="45.3" y2="352.0" stroke="#9a9a9a" stroke-width="0.7"/>
<line x1="43.3" y1="360.2" x2="45.3" y2="360.2" stroke="#9a9a9a" stroke-width="0.7"/>
<line x1="40.8" y1="368.4" x2="45.3" y2="368.4" stroke="#8a8a8a" stroke-width="0.9"/>
<line x1="43.3" y1="376.6" x2="45.3" y2="376.6" stroke="#9a9a9a" stroke-width="0.7"/>
<line x1="43.3" y1="384.8" x2="45.3" y2="384.8" stroke="#9a9a9a" stroke-width="0.7"/>
<line x1="43.3" y1="393.0" x2="45.3" y2="393.0" stroke="#9a9a9a" stroke-width="0.7"/>
<line x1="40.8" y1="401.2" x2="45.3" y2="401.2" stroke="#8a8a8a" stroke-width="0.9"/>
<line x1="43.3" y1="409.4" x2="45.3" y2="409.4" stroke="#9a9a9a" stroke-width="0.7"/>
<line x1="43.3" y1="417.6" x2="45.3" y2="417.6" stroke="#9a9a9a" stroke-width="0.7"/>
<line x1="43.3" y1="425.8" x2="45.3" y2="425.8" stroke="#9a9a9a" stroke-width="0.7"/>
<line x1="40.8" y1="434.0" x2="45.3" y2="434.0" stroke="#8a8a8a" stroke-width="0.9"/>
<line x1="46.1" y1="434.4" x2="46.1" y2="439" stroke="#333" stroke-width="0.8"/>
<line x1="57.0" y1="434.4" x2="57.0" y2="437" stroke="#444" stroke-width="0.6"/>
<line x1="63.4" y1="434.4" x2="63.4" y2="437" stroke="#444" stroke-width="0.6"/>
<line x1="68.0" y1="434.4" x2="68.0" y2="437" stroke="#444" stroke-width="0.6"/>
<line x1="71.5" y1="434.4" x2="71.5" y2="437" stroke="#444" stroke-width="0.6"/>
<line x1="74.3" y1="434.4" x2="74.3" y2="437" stroke="#444" stroke-width="0.6"/>
<line x1="76.8" y1="434.4" x2="76.8" y2="437" stroke="#444" stroke-width="0.6"/>
<line x1="78.9" y1="434.4" x2="78.9" y2="437" stroke="#444" stroke-width="0.6"/>
<line x1="80.7" y1="434.4" x2="80.7" y2="437" stroke="#444" stroke-width="0.6"/>
<line x1="82.4" y1="434.4" x2="82.4" y2="439" stroke="#333" stroke-width="0.8"/>
<line x1="93.3" y1="434.4" x2="93.3" y2="437" stroke="#444" stroke-width="0.6"/>
<line x1="99.7" y1="434.4" x2="99.7" y2="437" stroke="#444" stroke-width="0.6"/>
<line x1="104.3" y1="434.4" x2="104.3" y2="437" stroke="#444" stroke-width="0.6"/>
<line x1="107.8" y1="434.4" x2="107.8" y2="437" stroke="#444" stroke-width="0.6"/>
<line x1="110.6" y1="434.4" x2="110.6" y2="437" stroke="#444" stroke-width="0.6"/>
<line x1="113.1" y1="434.4" x2="113.1" y2="437" stroke="#444" stroke-width="0.6"/>
<line x1="115.2" y1="434.4" x2="115.2" y2="437" stroke="#444" stroke-width="0.6"/>
<line x1="117.0" y1="434.4" x2="117.0" y2="437" stroke="#444" stroke-width="0.6"/>
<line x1="118.7" y1="434.4" x2="118.7" y2="439" stroke="#333" stroke-width="0.8"/>
<line x1="129.6" y1="434.4" x2="129.6" y2="437" stroke="#444" stroke-width="0.6"/>
<line x1="136.0" y1="434.4" x2="136.0" y2="437" stroke="#444" stroke-width="0.6"/>
<line x1="140.6" y1="434.4" x2="140.6" y2="437" stroke="#444" stroke-width="0.6"/>
<line x1="144.1" y1="434.4" x2="144.1" y2="437" stroke="#444" stroke-width="0.6"/>
<line x1="146.9" y1="434.4" x2="146.9" y2="437" stroke="#444" stroke-width="0.6"/>
<line x1="149.4" y1="434.4" x2="149.4" y2="437" stroke="#444" stroke-width="0.6"/>
<line x1="151.5" y1="434.4" x2="151.5" y2="437" stroke="#444" stroke-width="0.6"/>
<line x1="153.3" y1="434.4" x2="153.3" y2="437" stroke="#444" stroke-width="0.6"/>
<line x1="155.0" y1="434.4" x2="155.0" y2="439" stroke="#333" stroke-width="0.8"/>
<line x1="165.9" y1="434.4" x2="165.9" y2="437" stroke="#444" stroke-width="0.6"/>
<line x1="172.3" y1="434.4" x2="172.3" y2="437" stroke="#444" stroke-width="0.6"/>
<line x1="176.9" y1="434.4" x2="176.9" y2="437" stroke="#444" stroke-width="0.6"/>
<line x1="180.4" y1="434.4" x2="180.4" y2="437" stroke="#444" stroke-width="0.6"/>
<line x1="183.2" y1="434.4" x2="183.2" y2="437" stroke="#444" stroke-width="0.6"/>
<line x1="185.7" y1="434.4" x2="185.7" y2="437" stroke="#444" stroke-width="0.6"/>
<line x1="187.8" y1="434.4" x2="187.8" y2="437" stroke="#444" stroke-width="0.6"/>
<line x1="189.6" y1="434.4" x2="189.6" y2="437" stroke="#444" stroke-width="0.6"/>
<line x1="191.3" y1="434.4" x2="191.3" y2="439" stroke="#333" stroke-width="0.8"/>
<line x1="202.2" y1="434.4" x2="202.2" y2="437" stroke="#444" stroke-width="0.6"/>
<line x1="208.6" y1="434.4" x2="208.6" y2="437" stroke="#444" stroke-width="0.6"/>
<line x1="213.2" y1="434.4" x2="213.2" y2="437" stroke="#444" stroke-width="0.6"/>
<line x1="216.7" y1="434.4" x2="216.7" y2="437" stroke="#444" stroke-width="0.6"/>
<line x1="219.5" y1="434.4" x2="219.5" y2="437" stroke="#444" stroke-width="0.6"/>
<text x="53.9" y="279.3" font-size="11.2">CD8<tspan font-size="7" dy="-3.8">+</tspan><tspan dy="3.8"> Tconv</tspan></text>
<text x="57.3" y="330" font-size="11.2">None</text>
<text x="132.1" y="274.2" font-size="11.2">CD4<tspan font-size="7" dy="-3.8">+</tspan><tspan dy="3.8"> Treg</tspan></text>
<text x="132.1" y="316.8" font-size="11.2">CD8<tspan font-size="7" dy="-3.8">+</tspan><tspan dy="3.8"> Treg</tspan></text>
<line x1="111.4" y1="277.4" x2="133.4" y2="289" stroke="#111" stroke-width="0.9"/>
<line x1="82.6" y1="331.8" x2="109.5" y2="346" stroke="#111" stroke-width="0.9"/>
<line x1="168" y1="276.3" x2="181.2" y2="289.1" stroke="#111" stroke-width="0.9"/>
<line x1="162" y1="318" x2="171.6" y2="374" stroke="#111" stroke-width="0.9"/>
<line x1="42" y1="447.4" x2="215.5" y2="447.4" stroke="#1a1a1a" stroke-width="1.2"/>
<polyline points="209.2,443.6 216.2,447.4 209.2,451.4" fill="none" stroke="#000" stroke-width="2.3" stroke-linecap="round"/>
<text x="127" y="464.6" font-size="16.2" text-anchor="middle">CFSE</text>
<line x1="286.7" y1="282" x2="286.7" y2="427.3" stroke="#000" stroke-width="1.8"/>
<line x1="281.6" y1="426.4" x2="503.2" y2="426.4" stroke="#000" stroke-width="1.8"/>
<line x1="281.6" y1="426.4" x2="286.7" y2="426.4" stroke="#000" stroke-width="1.7"/>
<text x="281.0" y="431.1" font-size="11" text-anchor="end" letter-spacing="-0.3">0</text>
<line x1="281.6" y1="397.7" x2="286.7" y2="397.7" stroke="#000" stroke-width="1.7"/>
<text x="281.0" y="402.4" font-size="11" text-anchor="end" letter-spacing="-0.3">20</text>
<line x1="281.6" y1="369.0" x2="286.7" y2="369.0" stroke="#000" stroke-width="1.7"/>
<text x="281.0" y="373.7" font-size="11" text-anchor="end" letter-spacing="-0.3">40</text>
<line x1="281.6" y1="340.2" x2="286.7" y2="340.2" stroke="#000" stroke-width="1.7"/>
<text x="281.0" y="344.9" font-size="11" text-anchor="end" letter-spacing="-0.3">60</text>
<line x1="281.6" y1="311.5" x2="286.7" y2="311.5" stroke="#000" stroke-width="1.7"/>
<text x="281.0" y="316.2" font-size="11" text-anchor="end" letter-spacing="-0.3">80</text>
<line x1="281.6" y1="282.8" x2="286.7" y2="282.8" stroke="#000" stroke-width="1.7"/>
<text x="281.0" y="287.5" font-size="11" text-anchor="end" letter-spacing="-0.3">100</text>
<line x1="304.9" y1="426.4" x2="304.9" y2="432.2" stroke="#000" stroke-width="1.7"/>
<line x1="340.7" y1="426.4" x2="340.7" y2="432.2" stroke="#000" stroke-width="1.7"/>
<line x1="376.5" y1="426.4" x2="376.5" y2="432.2" stroke="#000" stroke-width="1.7"/>
<line x1="412.3" y1="426.4" x2="412.3" y2="432.2" stroke="#000" stroke-width="1.7"/>
<line x1="448.1" y1="426.4" x2="448.1" y2="432.2" stroke="#000" stroke-width="1.7"/>
<line x1="483.9" y1="426.4" x2="483.9" y2="432.2" stroke="#000" stroke-width="1.7"/>
<text transform="translate(306.5,440.0) rotate(-45)" font-size="10.7" text-anchor="end">1:1</text>
<text transform="translate(342.3,440.0) rotate(-45)" font-size="10.7" text-anchor="end">1:2</text>
<text transform="translate(378.1,440.0) rotate(-45)" font-size="10.7" text-anchor="end">1:4</text>
<text transform="translate(413.9,440.0) rotate(-45)" font-size="10.7" text-anchor="end">1:8</text>
<text transform="translate(449.7,440.0) rotate(-45)" font-size="10.7" text-anchor="end">1:16</text>
<text transform="translate(485.5,440.0) rotate(-45)" font-size="10.7" text-anchor="end">0:1</text>
<text x="399.3" y="465.9" font-size="13.8" text-anchor="middle">T cell:Tconv Ratio</text>
<text transform="translate(259.4,341.6) rotate(-90)" font-size="13.8" text-anchor="middle">% Divided</text>
<polyline points="304.9,319.6 340.7,311.9 376.5,310.8 412.3,304.6 448.1,311.9 483.9,311.3" fill="none" stroke="#000" stroke-width="2.2" stroke-linejoin="round"/>
<polyline points="304.9,400.2 340.7,385.4 376.5,348.8 412.3,326.7 448.1,321.0 483.9,311.3" fill="none" stroke="#000" stroke-width="2.2" stroke-linejoin="round"/>
<polyline points="304.9,410.8 340.7,391.2 376.5,366.5 412.3,339.6 448.1,327.7 483.9,311.3" fill="none" stroke="#000" stroke-width="2.2" stroke-linejoin="round"/>
<rect x="300.8" y="315.5" width="8.2" height="8.2" fill="none" stroke="#000" stroke-width="1.9"/>
<rect x="336.6" y="307.8" width="8.2" height="8.2" fill="none" stroke="#000" stroke-width="1.9"/>
<rect x="372.4" y="306.7" width="8.2" height="8.2" fill="none" stroke="#000" stroke-width="1.9"/>
<rect x="408.2" y="300.5" width="8.2" height="8.2" fill="none" stroke="#000" stroke-width="1.9"/>
<rect x="444.0" y="307.8" width="8.2" height="8.2" fill="none" stroke="#000" stroke-width="1.9"/>
<circle cx="304.9" cy="400.2" r="4.1" fill="none" stroke="#000" stroke-width="1.9"/>
<circle cx="340.7" cy="385.4" r="4.1" fill="none" stroke="#000" stroke-width="1.9"/>
<circle cx="376.5" cy="348.8" r="4.1" fill="none" stroke="#000" stroke-width="1.9"/>
<circle cx="412.3" cy="326.7" r="4.1" fill="none" stroke="#000" stroke-width="1.9"/>
<circle cx="448.1" cy="321.0" r="4.1" fill="none" stroke="#000" stroke-width="1.9"/>
<circle cx="304.9" cy="410.8" r="4.6" fill="#000"/>
<circle cx="340.7" cy="391.2" r="4.6" fill="#000"/>
<circle cx="376.5" cy="366.5" r="4.6" fill="#000"/>
<circle cx="412.3" cy="339.6" r="4.6" fill="#000"/>
<circle cx="448.1" cy="327.7" r="4.6" fill="#000"/>
<rect x="479.1" y="306.5" width="9.6" height="9.6" fill="#000"/>
<line x1="402" y1="372.7" x2="420.5" y2="372.7" stroke="#000" stroke-width="2.2"/>
<line x1="402" y1="389.3" x2="420.5" y2="389.3" stroke="#000" stroke-width="2.2"/>
<line x1="402" y1="406.3" x2="420.5" y2="406.3" stroke="#000" stroke-width="2.2"/>
<circle cx="411.4" cy="372.7" r="4.4" fill="#000"/>
<circle cx="411.4" cy="389.3" r="4.0" fill="#fff" stroke="#000" stroke-width="1.9"/>
<rect x="407.4" y="402.0" width="8.2" height="8.6" fill="#fff" stroke="#000" stroke-width="1.9"/>
<line x1="407" y1="389.3" x2="416" y2="389.3" stroke="#000" stroke-width="2"/>
<line x1="407" y1="406.3" x2="416" y2="406.3" stroke="#000" stroke-width="2"/>
<text x="428" y="375.9" font-size="11">CD4<tspan font-size="5.8" dx="0.6" dy="-4.4">+</tspan><tspan dx="1.0" dy="4.4">FoxP3</tspan><tspan font-size="5.8" dx="0.8" dy="-4.4">+</tspan></text>
<text x="428" y="392.7" font-size="11">CD8<tspan font-size="5.8" dx="0.6" dy="-4.4">+</tspan><tspan dx="1.0" dy="4.4">FoxP3</tspan><tspan font-size="5.8" dx="0.8" dy="-4.4">+</tspan></text>
<text x="428" y="410.2" font-size="11">CD8<tspan font-size="5.8" dx="0.6" dy="-4.4">+</tspan><tspan dx="1.0" dy="4.4">FoxP3</tspan><tspan font-size="5.8" dx="0.8" dy="-4.4">−</tspan></text>
</svg>
</body></html>
